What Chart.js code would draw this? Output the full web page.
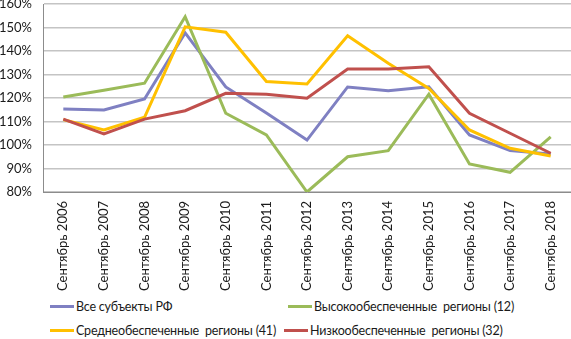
<!DOCTYPE html>
<html>
<head>
<meta charset="utf-8">
<script src="https://cdn.jsdelivr.net/npm/chart.js@4.4.0/dist/chart.umd.min.js"></script>
<style>
  html, body { margin: 0; padding: 0; background: #fff; }
  #wrap { position: relative; width: 571px; height: 295px; }
  #legend { position: relative; width: 571px; height: 44px; font-family: Lato, sans-serif; font-size: 12.5px; color: #1a1a1a; letter-spacing: -0.2px; }
  .item { position: absolute; display: flex; align-items: center; white-space: pre; }
  .item span.ln { display: inline-block; width: 24px; height: 3px; margin-right: 2px; }
</style>
</head>
<body>
<div id="wrap"><canvas id="chart"></canvas></div>
<div id="legend"></div>
<script>
/* ===== DATA ===== */
const labels = ["Сентябрь 2006", "Сентябрь 2007", "Сентябрь 2008", "Сентябрь 2009", "Сентябрь 2010",
  "Сентябрь 2011", "Сентябрь 2012", "Сентябрь 2013", "Сентябрь 2014", "Сентябрь 2015",
  "Сентябрь 2016", "Сентябрь 2017", "Сентябрь 2018"];

const allRegions = [115.3, 114.9, 119.6, 147.7, 124.7, 113.6, 102.1, 124.7, 123.1, 124.8, 104.3, 97.6, 96.2];
const highRegions = [120.4, 123.3, 126.3, 154.6, 113.5, 104.3, 80.0, 95.0, 97.6, 121.6, 91.9, 88.4, 103.5];
const midRegions = [110.8, 106.4, 111.8, 150.3, 148.0, 127.0, 126.0, 146.5, 134.8, 124.1, 106.4, 98.6, 95.3];
const lowRegions = [111.0, 104.7, 111.0, 114.6, 122.0, 121.6, 119.9, 132.3, 132.3, 133.3, 113.5, 105.0, 96.5];

const seriesNames = ["Все субъекты РФ", "Высокообеспеченные  регионы (12)",
  "Среднеобеспеченные  регионы (41)", "Низкообеспеченные  регионы (32)"];
const seriesColors = ["#7f80c2", "#9bbb59", "#ffc000", "#c0504d"];
const seriesData = [allRegions, highRegions, midRegions, lowRegions];

/* ===== CHART ===== */
const font = { family: "Lato, sans-serif", size: 13 };

new Chart(document.getElementById("chart"), {
  type: "line",
  data: {
    labels,
    datasets: seriesData.map((d, i) => ({
      label: seriesNames[i],
      data: d,
      borderColor: seriesColors[i],
      borderWidth: 3,
      pointRadius: 0,
      tension: 0,
      order: 3 - i
    }))
  },
  options: {
    responsive: true,
    maintainAspectRatio: false,
    animation: false,
    layout: { padding: { top: 4, left: 0, right: 0, bottom: 0 } },
    plugins: { legend: { display: false }, tooltip: { enabled: false } },
    scales: {
      x: {
        offset: true,
        grid: { display: false, drawTicks: false },
        border: { color: "#8c8c8c", width: 1 },
        ticks: { font, color: "#1a1a1a", maxRotation: 90, minRotation: 90, autoSkip: false, padding: 9 },
        afterFit: s => { s.height = 103; s.paddingLeft = 0; s.paddingRight = 0; }
      },
      y: {
        min: 80,
        max: 160,
        grid: { color: "#c4c4c4", lineWidth: 1.5, drawTicks: false },
        border: { color: "#8c8c8c", width: 1 },
        ticks: { font, color: "#1a1a1a", stepSize: 10, padding: 11, callback: v => v + "%" },
        afterFit: s => { s.width = 43; s.paddingTop = 0; s.paddingBottom = 0; }
      }
    }
  }
});

/* ===== LEGEND ===== */
const pos = [[50, 13], [288, 13], [50, 37], [284, 37]];
const legend = document.getElementById("legend");
seriesNames.forEach((name, i) => {
  const it = document.createElement("div");
  it.className = "item";
  it.style.left = pos[i][0] + "px";
  it.style.top = (pos[i][1] - 9) + "px";
  it.innerHTML = `<span class="ln" style="background:${seriesColors[i]}"></span>${name}`;
  legend.appendChild(it);
});
</script>
</body>
</html>
